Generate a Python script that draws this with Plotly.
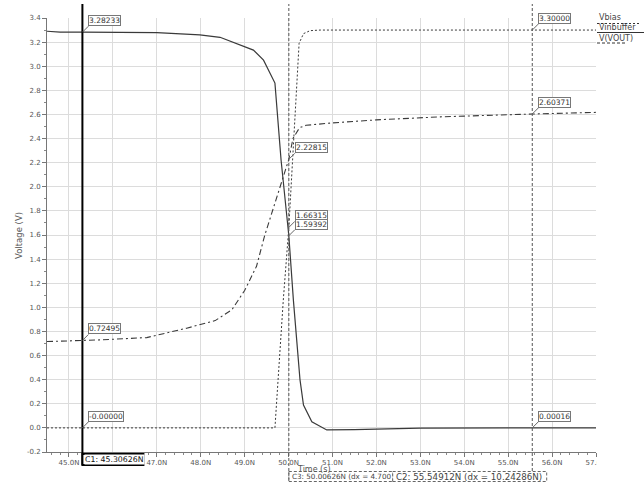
import plotly.graph_objects as go

# ---------------- data ----------------
t_vbias = [44.5, 49.69, 49.88, 50.00626, 50.24, 50.34, 50.49, 50.72, 55.54912, 57.0]
v_vbias = [0.0, 0.0, 1.06, 1.66315, 3.19, 3.27, 3.295, 3.30, 3.30, 3.30]

t_vin = [44.5, 44.8, 45.30626, 46.0, 47.0, 47.98, 48.44, 49.2, 49.43, 49.69, 49.83,
         50.00626, 50.11, 50.26, 50.34, 50.53, 50.72, 50.87, 51.5, 52.2, 53.0, 55.54912, 57.0]
v_vin = [3.29, 3.283, 3.28233, 3.281, 3.278, 3.26, 3.24, 3.134, 3.05, 2.86, 2.22,
         1.59392, 1.06, 0.40, 0.19, 0.05, 0.01, -0.017, -0.014, -0.010, -0.002, 0.00016, 0.0003]

t_vout = [44.5, 45.30626, 45.7, 46.77, 47.22, 47.68, 48.33, 48.71, 49.0, 49.27, 49.46,
          49.75, 50.00626, 50.10, 50.25, 50.40, 51.0, 52.0, 53.45, 55.54912, 57.0]
v_vout = [0.716, 0.72495, 0.73, 0.749, 0.785, 0.827, 0.89, 0.98, 1.14, 1.34, 1.60,
          1.93, 2.22815, 2.40, 2.49, 2.51, 2.53, 2.555, 2.58, 2.60371, 2.617]

series_names = ["Vbias", "Vinbuffer", "V(VOUT)"]

cursor_c1 = 45.30626
cursor_c3 = 50.00626
cursor_c2 = 55.54912

c1_values = ["3.28233", "0.72495", "-0.00000"]
c1_levels = [3.28233, 0.72495, 0.0]
c3_values = ["2.22815", "1.66315", "1.59392"]
c3_levels = [2.22815, 1.66315, 1.59392]
c2_values = ["3.30000", "2.60371", "0.00016"]
c2_levels = [3.30, 2.60371, 0.00016]

x_ticks = list(range(45, 58))
x_tick_labels = [f"{v:.1f}N" for v in x_ticks]
y_ticks = [round(-0.2 + 0.2 * i, 1) for i in range(19)]
y_tick_labels = [f"{v:.1f}" for v in y_ticks]

c1_label = "C1: 45.30626N"
c3_label = "C3: 50.00626N (dx = 4.700"
c2_label = "C2: 55.54912N (dx = 10.24286N)"

# ---------------- figure ----------------
TRACE_COL = "#3a3a3a"
fig = go.Figure()
fig.add_trace(go.Scatter(x=t_vbias, y=v_vbias, mode="lines", name=series_names[0],
                         line=dict(color=TRACE_COL, width=1, dash="2px,2px")))
fig.add_trace(go.Scatter(x=t_vin, y=v_vin, mode="lines", name=series_names[1],
                         line=dict(color=TRACE_COL, width=1.2)))
fig.add_trace(go.Scatter(x=t_vout, y=v_vout, mode="lines", name=series_names[2],
                         line=dict(color=TRACE_COL, width=1.1, dash="6px,3px,2px,3px")))

W, H = 644, 483
L, R, T, B = 47, 48, 18, 31
PW, PH = W - L - R, H - T - B

def px_x(p):
    return (p - L) / PW

def px_y(p):
    return (H - B - p) / PH

shapes = []
annotations = []

# cursor lines
shapes.append(dict(type="line", xref="x", yref="paper", x0=cursor_c1, x1=cursor_c1,
                   y0=px_y(465), y1=px_y(4), line=dict(color="black", width=2), layer="above"))
for c in (cursor_c3, cursor_c2):
    shapes.append(dict(type="line", xref="x", yref="paper", x0=c, x1=c,
                       y0=px_y(481), y1=px_y(4),
                       line=dict(color="#555555", width=1, dash="3px,2px"), layer="above"))

# white cover for right-most tick label (clipped by legend panel)
shapes.append(dict(type="rect", xref="paper", yref="paper", x0=px_x(597), x1=px_x(644),
                   y0=px_y(470), y1=px_y(455), fillcolor="white", line=dict(width=0),
                   layer="above"))

# value markers
def add_markers(tx, levels, labels):
    for lv, lab in zip(levels, labels):
        annotations.append(dict(x=tx, y=lv, xref="x", yref="y", text=lab,
                                showarrow=True, arrowhead=0, arrowwidth=1,
                                arrowcolor="#666666", ax=6, ay=-6,
                                xanchor="left", yanchor="bottom",
                                bordercolor="#777777", borderwidth=1, borderpad=0,
                                bgcolor="white",
                                font=dict(family="DejaVu Sans", size=7.5, color="#333333")))

add_markers(cursor_c1, c1_levels, c1_values)
add_markers(cursor_c3, c3_levels, c3_values)
add_markers(cursor_c2, c2_levels, c2_values)

# x-axis title (partly crossed by the C3 box, as in the reference)
annotations.append(dict(x=px_x(314), y=px_y(469), xref="paper", yref="paper", text="Time (s)",
                        showarrow=False, xanchor="center", yanchor="middle",
                        font=dict(family="DejaVu Sans", size=8, color="#555555")))

# C1 label
shapes.append(dict(type="rect", xref="x", yref="paper", xsizemode="pixel", ysizemode="pixel",
                   xanchor=cursor_c1, x0=0, x1=61, yanchor=0, y0=-2, y1=-13,
                   line=dict(color="black", width=2), fillcolor="white", layer="above"))
annotations.append(dict(x=cursor_c1, y=px_y(459.5), xref="x", yref="paper", text=c1_label,
                        showarrow=False, xanchor="left", yanchor="middle", xshift=1.5,
                        bgcolor="white", borderpad=0,
                        font=dict(family="DejaVu Sans", size=7.8, color="#111111")))

# C3 label
shapes.append(dict(type="rect", xref="x", yref="paper", xsizemode="pixel", ysizemode="pixel",
                   xanchor=cursor_c3, x0=0, x1=104, yanchor=px_y(471.5), y0=0, y1=-10,
                   line=dict(color="#666666", width=1, dash="3px,2px"), layer="above"))
annotations.append(dict(x=cursor_c3, y=px_y(476.5), xref="x", yref="paper", text=c3_label,
                        showarrow=False, xanchor="left", yanchor="middle", xshift=1,
                        font=dict(family="DejaVu Sans", size=7.2, color="#444444")))

# C2 label (box overlapping the end of the C3 box)
shapes.append(dict(type="rect", xref="paper", yref="paper", x0=px_x(392.7), x1=px_x(546.7),
                   y0=px_y(481.5), y1=px_y(471.5), fillcolor="white",
                   line=dict(color="#666666", width=1, dash="3px,2px"), layer="above"))
annotations.append(dict(x=px_x(393.5), y=px_y(476.5), xref="paper", yref="paper", text=c2_label,
                        showarrow=False, xanchor="left", yanchor="middle",
                        font=dict(family="DejaVu Sans", size=8.7, color="#444444")))

# y-axis title
annotations.append(dict(x=px_x(19), y=0.5, xref="paper", yref="paper", text="Voltage (V)",
                        textangle=-90, showarrow=False, xanchor="center", yanchor="middle",
                        font=dict(family="DejaVu Sans", size=8.5, color="#555555")))

# legend (names with style underlines)
leg_text_y = [17, 27.5, 38]
leg_line_y = [23.5, 32.5, 43]
leg_line_x1 = [640, 644, 627]
leg_dash = ["2px,2px", "solid", "3px,2px"]
for name, ty, ly, lx1, dsh in zip(series_names, leg_text_y, leg_line_y, leg_line_x1, leg_dash):
    annotations.append(dict(x=px_x(597), y=px_y(ty), xref="paper", yref="paper", text=name,
                            showarrow=False, xanchor="left", yanchor="middle",
                            font=dict(family="DejaVu Sans", size=8, color="#444444")))
    shapes.append(dict(type="line", xref="paper", yref="paper", x0=px_x(597), x1=px_x(lx1),
                       y0=px_y(ly), y1=px_y(ly),
                       line=dict(color="#333333", width=1, dash=dsh), layer="above"))

fig.update_layout(
    width=W, height=H,
    margin=dict(l=L, r=R, t=T, b=B, pad=0),
    paper_bgcolor="white", plot_bgcolor="white",
    showlegend=False,
    shapes=shapes, annotations=annotations,
    font=dict(family="DejaVu Sans", size=7, color="#555555"),
)
fig.update_xaxes(range=[44.5, 57.0], tickvals=x_ticks, ticktext=x_tick_labels,
                 showgrid=True, gridcolor="#dcdcdc", gridwidth=1,
                 showline=True, linecolor="#777777", linewidth=1,
                 ticks="outside", ticklen=4, tickcolor="#777777",
                 minor=dict(dtick=0.2, tick0=45, ticks="outside", ticklen=2,
                            tickcolor="#888888", showgrid=False),
                 tickfont=dict(size=7, color="#555555"), zeroline=False)
fig.update_yaxes(range=[-0.2, 3.4], tickvals=y_ticks, ticktext=y_tick_labels,
                 showgrid=True, gridcolor="#dcdcdc", gridwidth=1,
                 showline=True, linecolor="#777777", linewidth=1,
                 ticks="outside", ticklen=4, tickcolor="#777777",
                 minor=dict(dtick=0.1, tick0=0, ticks="outside", ticklen=2,
                            tickcolor="#888888", showgrid=False),
                 tickfont=dict(size=7, color="#555555"), zeroline=False)

fig.write_html("out.html")
